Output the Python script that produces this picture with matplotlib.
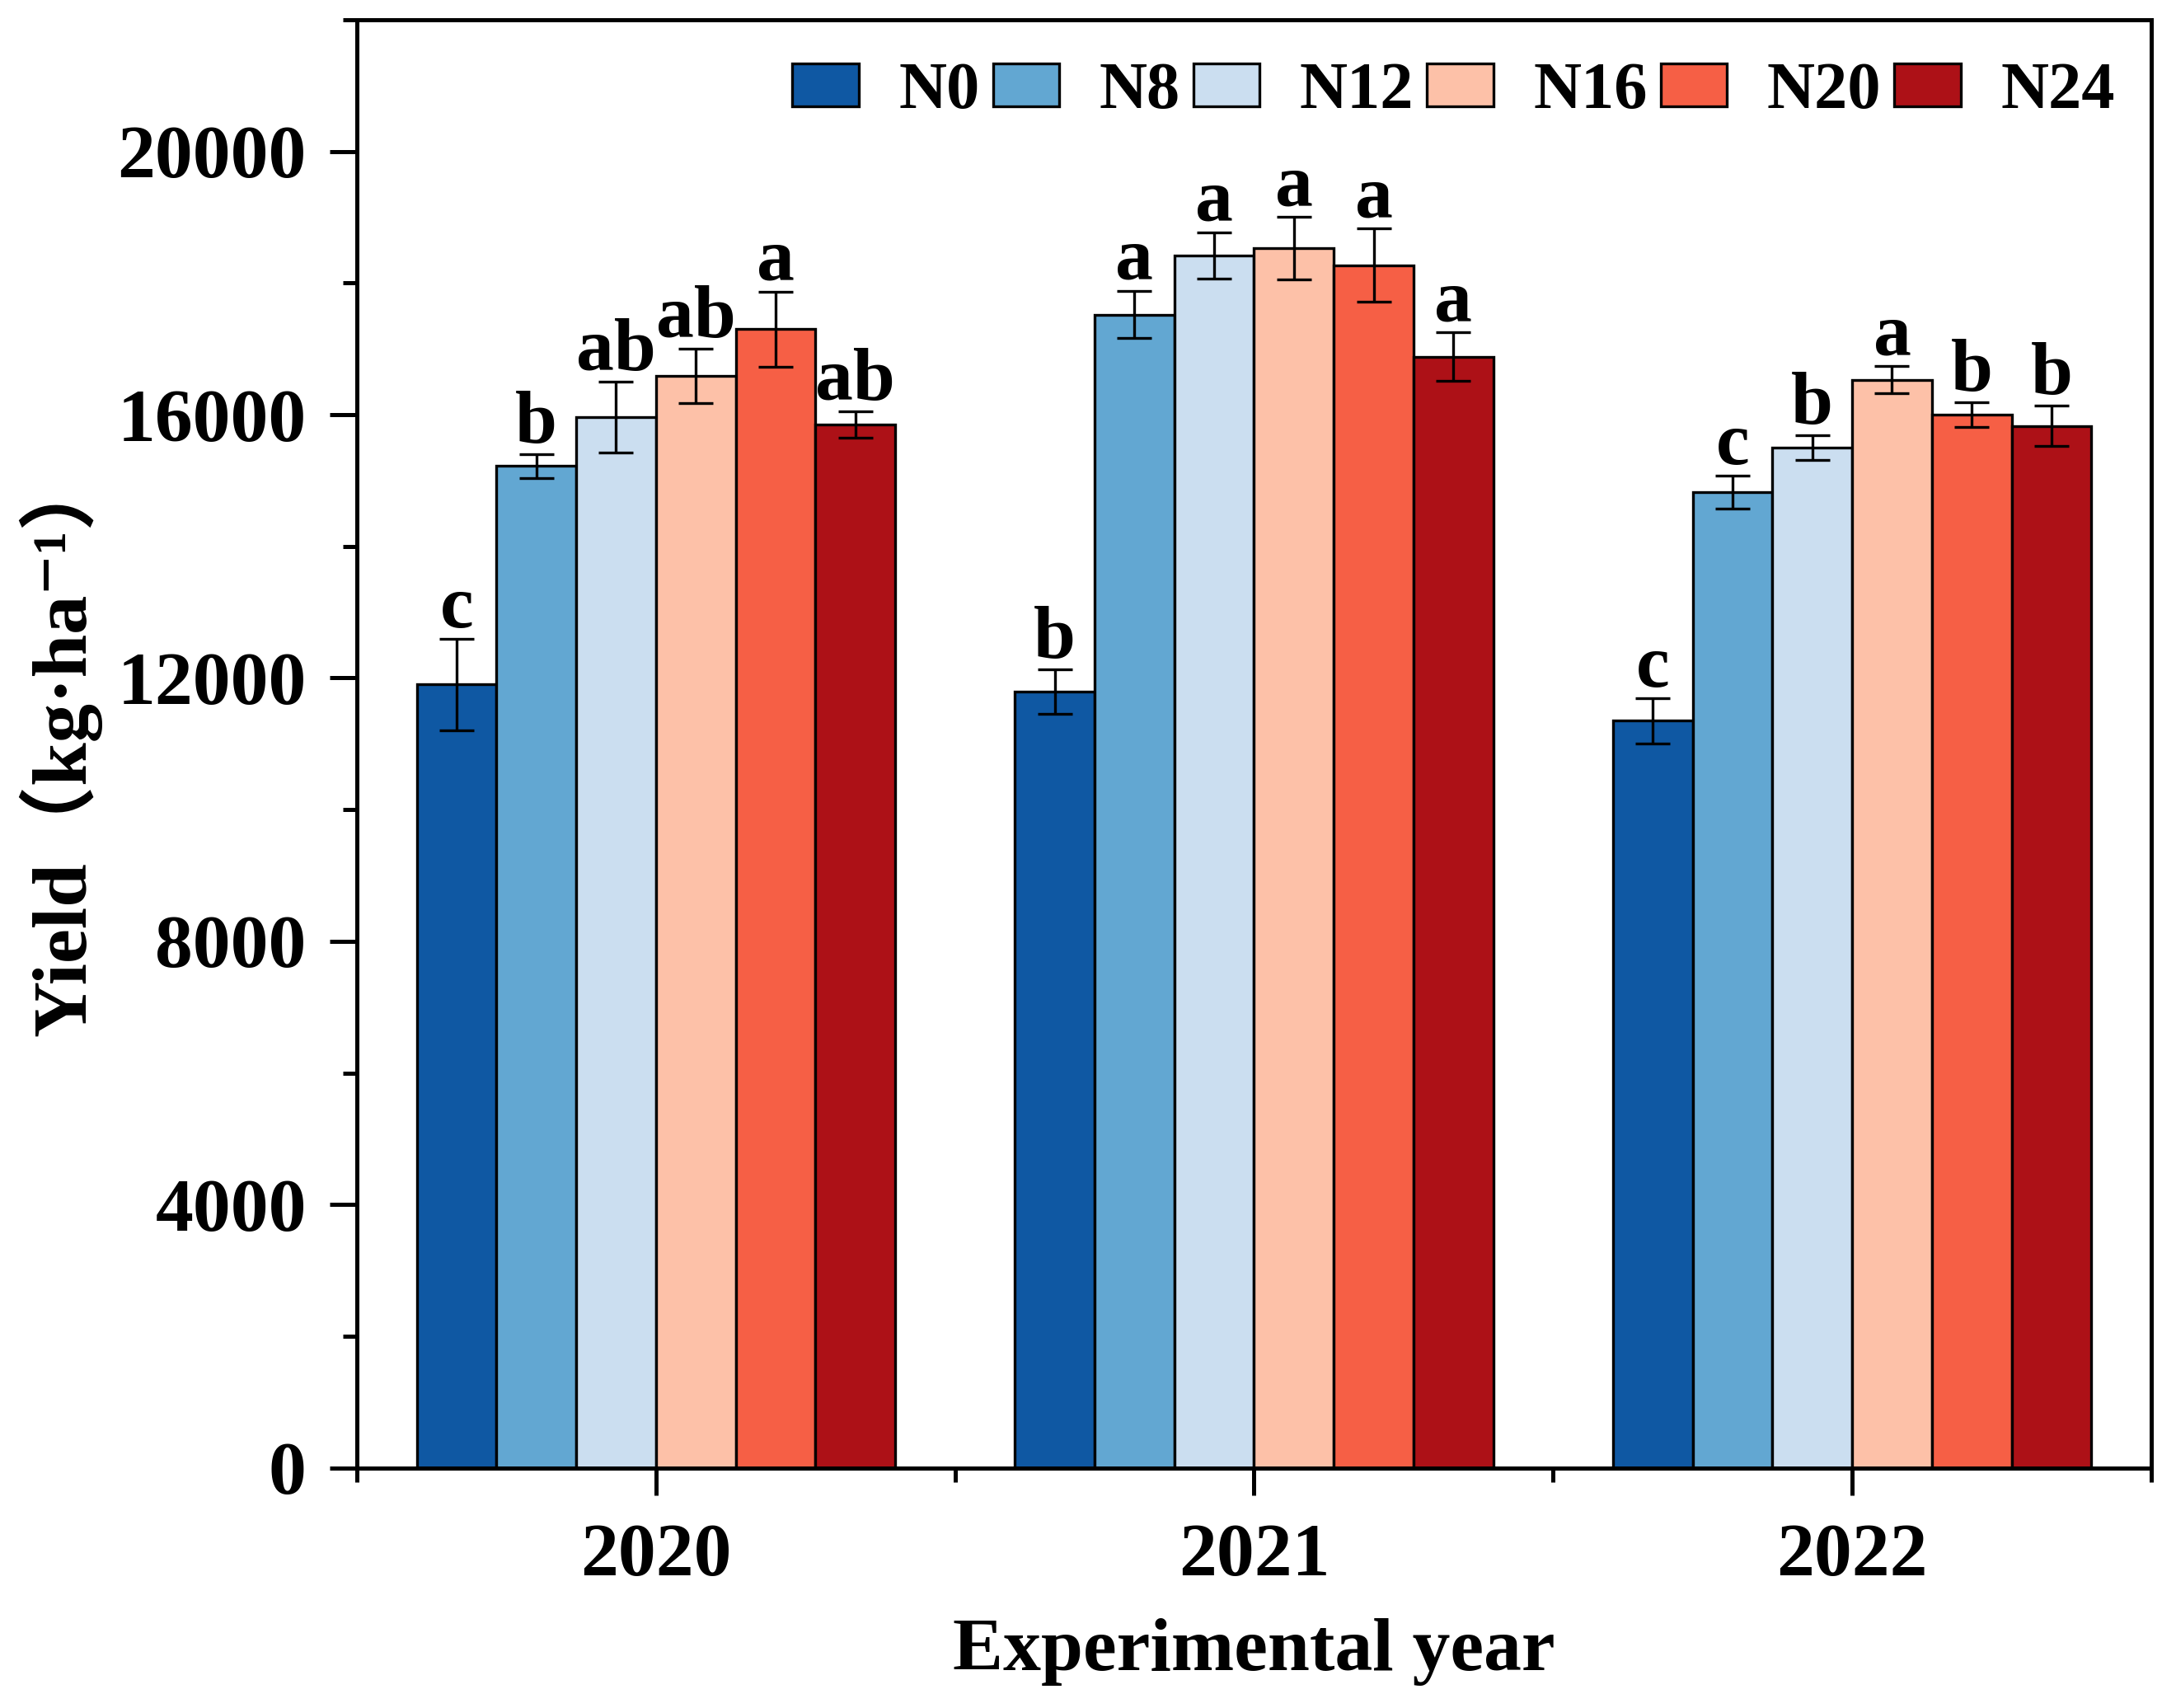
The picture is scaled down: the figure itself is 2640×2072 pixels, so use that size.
import matplotlib
matplotlib.use('Agg')
import matplotlib.pyplot as plt
import numpy as np
from matplotlib.ticker import MultipleLocator, FixedLocator

plt.rcParams['font.family'] = ['Liberation Serif', 'DejaVu Serif', 'Noto Sans CJK SC']
plt.rcParams['font.weight'] = 'bold'

# data
years = ['2020', '2021', '2022']
treatments = ['N0', 'N8', 'N12', 'N16', 'N20', 'N24']
colors = ['#0f58a3', '#62a7d2', '#cbdef0', '#fdc1a8', '#f65f45', '#ad1117']

yield_n0 = [11900, 11790, 11350]
yield_n8 = [15220, 17520, 14820]
yield_n12 = [15960, 18420, 15500]
yield_n16 = [16590, 18530, 16530]
yield_n20 = [17300, 18270, 16000]
yield_n24 = [15850, 16880, 15830]

err_n0 = [700, 340, 340]
err_n8 = [180, 360, 250]
err_n12 = [540, 350, 190]
err_n16 = [410, 470, 210]
err_n20 = [570, 560, 190]
err_n24 = [200, 370, 310]

letters_n0 = ['c', 'b', 'c']
letters_n8 = ['b', 'a', 'c']
letters_n12 = ['ab', 'a', 'b']
letters_n16 = ['ab', 'a', 'a']
letters_n20 = ['a', 'a', 'b']
letters_n24 = ['ab', 'a', 'b']

yields = [yield_n0, yield_n8, yield_n12, yield_n16, yield_n20, yield_n24]
errs = [err_n0, err_n8, err_n12, err_n16, err_n20, err_n24]
letters = [letters_n0, letters_n8, letters_n12, letters_n16, letters_n20, letters_n24]

fig = plt.figure(figsize=(13.2, 10.36), dpi=200)
ax = fig.add_axes([0.164, 0.1405, 0.8246, 0.848])

x = np.arange(len(years))
w = 0.8 / len(treatments)

for j, name in enumerate(treatments):
    pos = x + (j - 2.5) * w
    ax.bar(pos, yields[j], width=w, color=colors[j], edgecolor='black',
           linewidth=1.2, label=name, zorder=2)
    ax.errorbar(pos, yields[j], yerr=errs[j], fmt='none', ecolor='black',
                elinewidth=1.2, capsize=7.5, capthick=1.2, zorder=3)
    for k in range(len(years)):
        ax.annotate(letters[j][k], (pos[k], yields[j][k] + errs[j][k]),
                    xytext=(0, 5), textcoords='offset points',
                    ha='center', va='baseline', fontsize=33, fontweight='bold')

ax.set_xlim(-0.5, 2.5)
ax.set_ylim(0, 22000)

ax.xaxis.set_major_locator(FixedLocator(x))
ax.set_xticklabels(years)
ax.xaxis.set_minor_locator(FixedLocator([-0.5, 0.5, 1.5, 2.5]))
ax.yaxis.set_major_locator(MultipleLocator(4000))
ax.yaxis.set_minor_locator(MultipleLocator(2000))

ax.tick_params(which='major', direction='out', length=12, width=1.8,
               labelsize=33, pad=10)
ax.tick_params(which='minor', direction='out', length=6, width=1.8)
ax.tick_params(axis='x', which='major', pad=12)
for lab in ax.get_xticklabels() + ax.get_yticklabels():
    lab.set_fontweight('bold')

for sp in ax.spines.values():
    sp.set_linewidth(1.8)

ax.set_xlabel('Experimental year', fontsize=33, fontweight='bold', labelpad=12)
ax.set_ylabel('Yield（kg·ha⁻¹）', fontsize=34, fontweight='bold', labelpad=7)

ax.legend(loc='center right', bbox_to_anchor=(1.013, 0.95), ncol=6,
          frameon=False, fontsize=29, handlelength=1.0, handleheight=0.62,
          handletextpad=0.6, columnspacing=0.2)

fig.savefig('out.png', dpi=200)
